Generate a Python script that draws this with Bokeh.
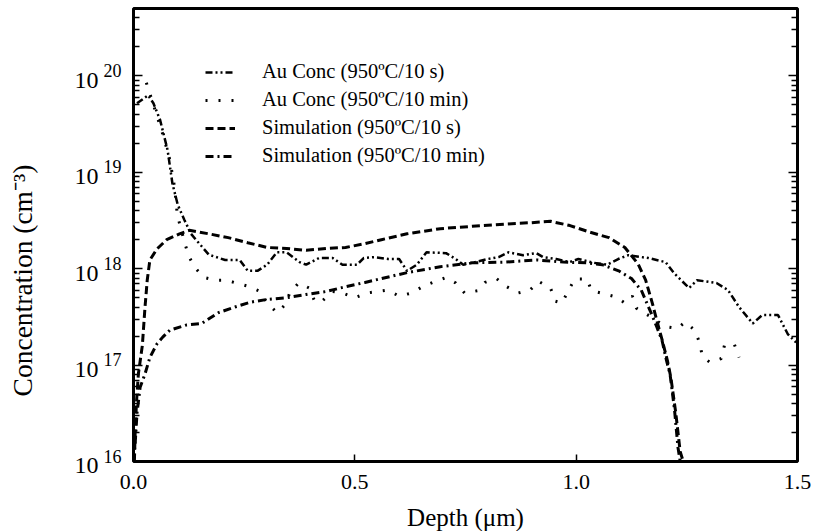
import math
from bokeh.plotting import figure
from bokeh.layouts import row, column
from bokeh.models import (LogAxis, Legend, LegendItem, FixedTicker,
                          CustomJSTickFormatter, NumeralTickFormatter)
from bokeh.core.properties import value
from bokeh.embed import file_html
from bokeh.resources import INLINE

# ---------------- data (depth in um, concentration in cm^-3) ----------------
au10s_x = [0.008, 0.033, 0.045, 0.060, 0.077, 0.088, 0.100, 0.115, 0.130, 0.141,
           0.170, 0.207, 0.240, 0.258, 0.280, 0.302, 0.324, 0.346, 0.375, 0.390,
           0.419, 0.450, 0.472, 0.505, 0.520, 0.545, 0.575, 0.600, 0.618, 0.640,
           0.662, 0.706, 0.728, 0.745, 0.765, 0.800, 0.825, 0.847, 0.880, 0.910,
           0.925, 0.955, 0.985, 1.005, 1.040, 1.070, 1.095, 1.118, 1.163, 1.202,
           1.222, 1.255, 1.273, 1.317, 1.343, 1.368, 1.399, 1.420, 1.456, 1.478,
           1.500]
au10s_y = [5.2e19, 6.3e19, 5.2e19, 3.5e19, 1.7e19, 7.6e18, 4.6e18, 3.2e18, 2.3e18, 2.0e18,
           1.4e18, 1.23e18, 1.23e18, 9.5e17, 9.5e17, 1.1e18, 1.48e18, 1.48e18, 1.17e18, 1.1e18,
           1.29e18, 1.29e18, 1.1e18, 1.1e18, 1.29e18, 1.32e18, 1.26e18, 1.26e18, 9.5e17, 1.1e18,
           1.48e18, 1.45e18, 1.26e18, 1.1e18, 1.15e18, 1.26e18, 1.32e18, 1.48e18, 1.38e18, 1.45e18,
           1.32e18, 1.26e18, 1.17e18, 1.26e18, 1.15e18, 1.1e18, 1.26e18, 1.38e18, 1.29e18, 1.17e18,
           8.9e17, 6.3e17, 7.6e17, 7.1e17, 6.0e17, 4.0e17, 2.7e17, 3.3e17, 3.3e17, 2.1e17,
           1.66e17]

au10m_x = [0.029, 0.066, 0.082, 0.093, 0.099, 0.115, 0.124, 0.137, 0.159, 0.185,
           0.210, 0.232, 0.258, 0.287, 0.302, 0.324, 0.342, 0.353, 0.373, 0.397,
           0.410, 0.428, 0.450, 0.472, 0.500, 0.529, 0.551, 0.574, 0.600, 0.629,
           0.655, 0.682, 0.706, 0.728, 0.748, 0.777, 0.794, 0.820, 0.843, 0.869,
           0.896, 0.915, 0.942, 0.953, 0.968, 0.982, 0.997, 1.024, 1.035, 1.063,
           1.090, 1.110, 1.127, 1.136, 1.167, 1.202, 1.229, 1.246, 1.268, 1.279,
           1.285, 1.302, 1.328, 1.335, 1.357, 1.368]
au10m_y = [8.5e19, 2.5e19, 1.35e19, 6.9e18, 3.6e18, 1.9e18, 1.38e18, 1.05e18, 8.1e17, 7.6e17,
           7.6e17, 7.1e17, 6.6e17, 5.8e17, 4.4e17, 3.5e17, 4.2e17, 5.6e17, 7.1e17, 6.3e17,
           4.5e17, 4.7e17, 5.8e17, 5.6e17, 5.0e17, 5.6e17, 5.8e17, 6.0e17, 5.2e17, 5.6e17,
           6.6e17, 7.4e17, 8.1e17, 7.1e17, 5.6e17, 5.9e17, 7.2e17, 7.9e17, 6.5e17, 5.6e17,
           6.0e17, 7.4e17, 6.3e17, 4.6e17, 4.4e17, 5.9e17, 7.8e17, 7.8e17, 5.9e17, 5.5e17,
           5.1e17, 4.4e17, 5.2e17, 3.9e17, 3.2e17, 2.5e17, 2.4e17, 2.8e17, 2.3e17, 1.7e17,
           1.23e17, 1.07e17, 1.17e17, 1.6e17, 1.66e17, 1.2e17]

sim10s_x = [0.002, 0.004, 0.007, 0.011, 0.020, 0.026, 0.031, 0.037, 0.053, 0.075,
            0.104, 0.126, 0.170, 0.214, 0.258, 0.302, 0.346, 0.390, 0.435, 0.479,
            0.523, 0.560, 0.618, 0.693, 0.765, 0.838, 0.898, 0.942, 0.986, 1.030,
            1.074, 1.110, 1.140, 1.157, 1.172, 1.184, 1.196, 1.206, 1.214, 1.225,
            1.235, 1.242]
sim10s_y = [1.0e16, 2.2e16, 4.3e16, 8.1e16, 1.6e17, 4.0e17, 7.6e17, 1.23e18, 1.6e18, 2.0e18,
            2.3e18, 2.5e18, 2.3e18, 2.1e18, 1.86e18, 1.66e18, 1.62e18, 1.55e18, 1.62e18, 1.66e18,
            1.82e18, 2.0e18, 2.3e18, 2.6e18, 2.75e18, 2.9e18, 3.0e18, 3.1e18, 2.8e18, 2.4e18,
            2.1e18, 1.66e18, 1.12e18, 7.6e17, 4.4e17, 2.7e17, 1.7e17, 1.12e17, 7.4e16, 3.2e16,
            1.26e16, 1.0e16]

sim10m_x = [0.000, 0.004, 0.008, 0.015, 0.026, 0.037, 0.053, 0.066, 0.082, 0.119,
            0.154, 0.192, 0.229, 0.265, 0.302, 0.346, 0.390, 0.435, 0.479, 0.523,
            0.560, 0.618, 0.693, 0.765, 0.838, 0.913, 0.971, 1.024, 1.059, 1.096,
            1.125, 1.147, 1.169, 1.182, 1.194, 1.204, 1.212, 1.222, 1.230, 1.235]
sim10m_y = [1.0e16, 1.6e16, 3.2e16, 5.9e16, 8.1e16, 1.2e17, 1.66e17, 1.95e17, 2.3e17, 2.6e17,
            2.7e17, 3.5e17, 4.0e17, 4.5e17, 4.8e17, 5.0e17, 5.4e17, 5.8e17, 6.5e17, 7.2e17,
            7.9e17, 9.1e17, 1.05e18, 1.15e18, 1.17e18, 1.23e18, 1.17e18, 1.15e18, 1.1e18, 9.5e17,
            7.9e17, 6.0e17, 3.5e17, 2.5e17, 1.8e17, 1.12e17, 8.1e16, 3.5e16, 1.4e16, 1.0e16]

series_labels = ["Au Conc (950\u00baC/10 s)", "Au Conc (950\u00baC/10 min)",
                 "Simulation (950\u00baC/10 s)", "Simulation (950\u00baC/10 min)"]
x_title = "Depth (\u03bcm)"
y_title = "Concentration (cm\u207b\u00b3)"

x_ticks = [0.0, 0.5, 1.0, 1.5]
y_decades = [1e16, 1e17, 1e18, 1e19, 1e20]
y_minor = [m * 10.0 ** e for e in range(16, 21) for m in range(2, 10) if m * 10.0 ** e <= 5e20]

FONT = "Liberation Serif"
KW = dict(output_backend="svg", toolbar_location=None)


def bare(fig):
    fig.outline_line_color = None
    fig.background_fill_color = "white"
    fig.border_fill_color = "white"
    fig.xgrid.visible = False
    fig.ygrid.visible = False


# ---------------- main plot ----------------
p = figure(width=780, height=503, y_axis_type="log",
           x_range=(x_ticks[0], x_ticks[-1]), y_range=(1e16, 5e20),
           min_border_left=85, min_border_right=31,
           min_border_top=8, min_border_bottom=42, **KW)
p.background_fill_color = "white"
p.border_fill_color = "white"
p.outline_line_color = "black"
p.outline_line_width = 3
p.xgrid.visible = False
p.ygrid.visible = False

# inner left axis: ticks + raised exponent of each decade
yax = p.yaxis[0]
yax.ticker = FixedTicker(ticks=y_decades, minor_ticks=y_minor)
yax.formatter = CustomJSTickFormatter(code=r"return String(Math.round(Math.log10(tick))) + '\n ';")

# outer left axis: the base "10" of each decade label
ybase = LogAxis(ticker=FixedTicker(ticks=y_decades),
                formatter=CustomJSTickFormatter(code=r"return ' \n10';"))
p.add_layout(ybase, "left")

xax = p.xaxis[0]
xax.ticker = FixedTicker(ticks=x_ticks)
xax.formatter = NumeralTickFormatter(format="0.0")

rax = LogAxis(ticker=FixedTicker(ticks=y_decades, minor_ticks=y_minor),
              formatter=CustomJSTickFormatter(code="return '';"))
p.add_layout(rax, "right")

for ax in [xax, yax, rax, ybase]:
    ax.axis_line_color = None
    ax.major_tick_in = 9
    ax.major_tick_out = 0
    ax.minor_tick_in = 6
    ax.minor_tick_out = 0
    ax.major_tick_line_width = 1.5
    ax.minor_tick_line_width = 1.5
    ax.major_label_text_font = FONT
    ax.major_label_text_color = "black"

xax.major_tick_in = 7
xax.minor_tick_in = 0
xax.major_label_text_font_size = "22px"
xax.major_label_standoff = 13

yax.major_label_text_font_size = "18px"
yax.major_label_text_line_height = 0.5
yax.major_label_standoff = 12

ybase.major_tick_line_color = None
ybase.minor_tick_line_color = None
ybase.major_tick_in = 0
ybase.minor_tick_in = 0
ybase.major_label_text_font_size = "24px"
ybase.major_label_text_line_height = 0.3
ybase.major_label_standoff = 2

r1 = p.line(au10s_x, au10s_y, line_color="black", line_width=2.5, line_dash="7 3 2 3 2 3")
r2 = p.line(au10m_x, au10m_y, line_color="black", line_width=3, line_dash="2 11")
r3 = p.line(sim10s_x, sim10s_y, line_color="black", line_width=3, line_dash="8 4")
r4 = p.line(sim10m_x, sim10m_y, line_color="black", line_width=3, line_dash="8 4 2 4")

legend = Legend(items=[LegendItem(label=series_labels[0], renderers=[r1]),
                       LegendItem(label=series_labels[1], renderers=[r2]),
                       LegendItem(label=series_labels[2], renderers=[r3]),
                       LegendItem(label=series_labels[3], renderers=[r4])],
                location=(72, 294), padding=0, margin=0, spacing=5,
                glyph_width=30, glyph_height=22, label_height=22,
                label_standoff=27, label_text_font=FONT,
                label_text_font_size="20.5px", label_text_color="black",
                background_fill_alpha=0, border_line_color=None)
p.add_layout(legend, "center")

# ---------------- axis titles (own strips, so they can sit where the source has them) ----
ylab = figure(width=48, height=531, x_range=(0, 48), y_range=(0, 531),
              x_axis_location=None, y_axis_location=None, min_border=0,
              min_border_left=0, min_border_right=0, min_border_top=0, min_border_bottom=0, **KW)
bare(ylab)
ylab.text(x=[22], y=[251], text=[y_title], angle=math.pi / 2,
          text_align="center", text_baseline="middle",
          text_font=value(FONT), text_font_size="27.5px", text_color="black")

xlab = figure(width=780, height=28, x_range=p.x_range, y_range=(0, 28),
              x_axis_location=None, y_axis_location=None, min_border=0,
              min_border_left=85, min_border_right=31, min_border_top=0, min_border_bottom=0, **KW)
bare(xlab)
xlab.text(x=[(x_ticks[0] + x_ticks[-1]) / 2], y=[14], text=[x_title],
          text_align="center", text_baseline="middle",
          text_font=value(FONT), text_font_size="25px", text_color="black")

layout = row(ylab, column(p, xlab))
open("out.html", "w").write(file_html(layout, INLINE))
